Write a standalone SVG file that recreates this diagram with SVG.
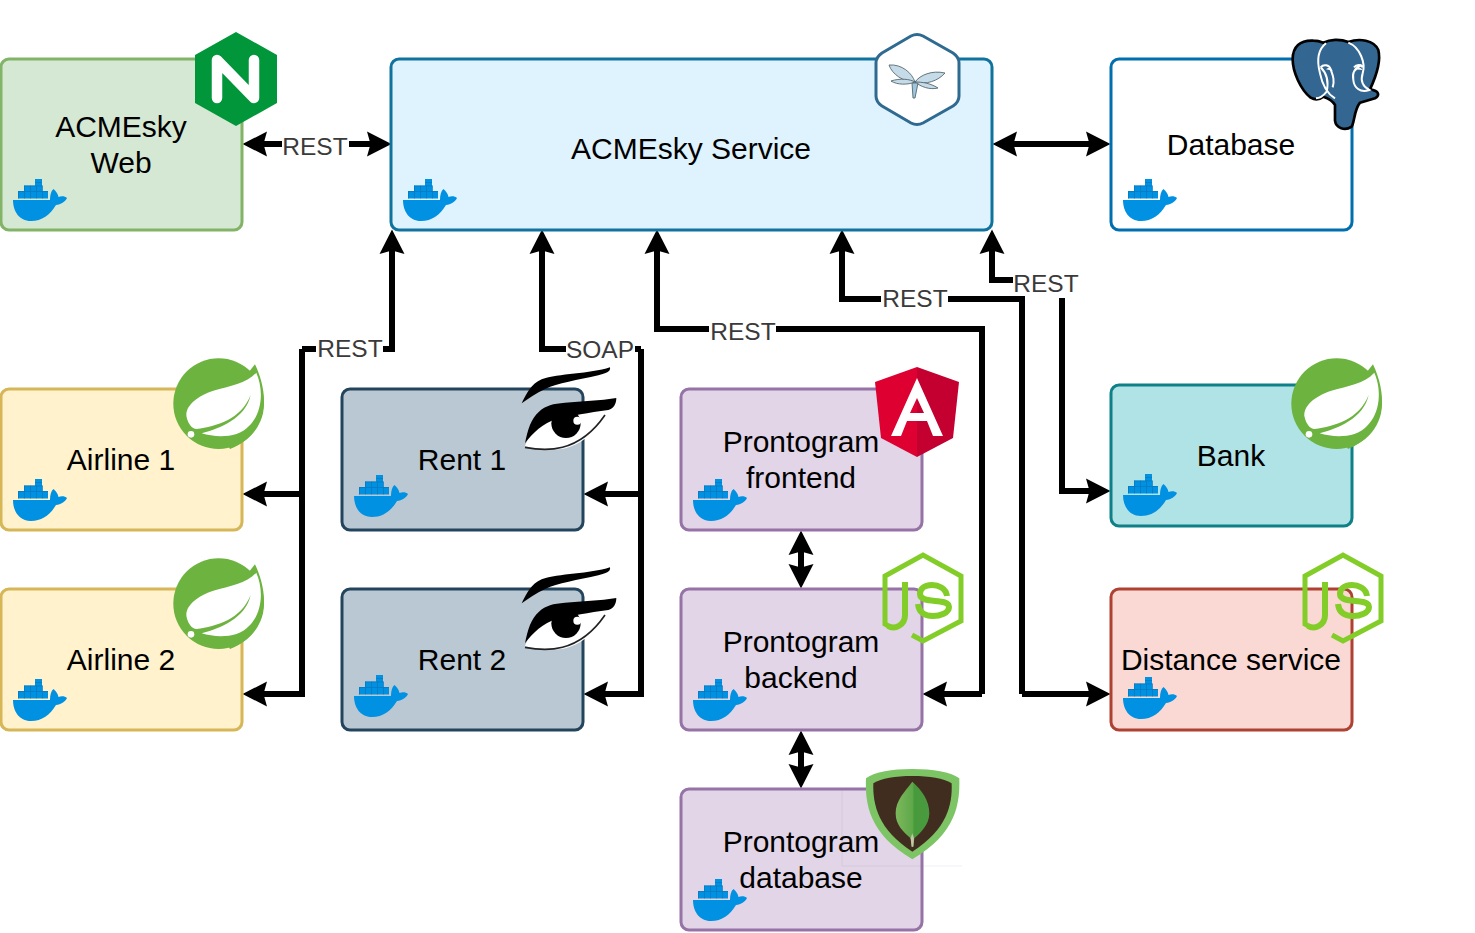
<svg xmlns="http://www.w3.org/2000/svg" width="1475" height="933" viewBox="0 0 1475 933">
<style>
.box{stroke-width:3}
.t{font-family:"Liberation Sans",Arial,sans-serif;font-size:30px;fill:#000;text-anchor:middle}
.l{font-family:"Liberation Sans",Arial,sans-serif;font-size:24.5px;fill:#3a3a3a;text-anchor:middle}
.e{fill:none;stroke:#000;stroke-width:6;stroke-linejoin:miter}
.a{marker-end:url(#arr)}
.b{marker-start:url(#arr);marker-end:url(#arr)}
.bg{fill:#fff}
.green{fill:#d5e8d4;stroke:#82b366}
.blue{fill:#dff3ff;stroke:#10739e}
.white{fill:#fff;stroke:#006eaf}
.yellow{fill:#fff2cc;stroke:#d6b656}
.slate{fill:#bac8d3;stroke:#23445d}
.purple{fill:#e1d5e7;stroke:#9673a6}
.teal{fill:#b0e3e6;stroke:#0e8088}
.red{fill:#fad9d5;stroke:#ae4132}
</style>
<defs>
<marker id="arr" markerUnits="userSpaceOnUse" markerWidth="26" markerHeight="26" refX="6" refY="13" orient="auto-start-reverse" viewBox="0 0 26 26"><path d="M24.5,13 L0,.5 L3.5,13 L0,25.5 Z" fill="#000"/></marker>
<linearGradient id="leaf" x1="0" x2="1" y1="0" y2="0"><stop offset="0" stop-color="#7cb85c"/><stop offset=".5" stop-color="#5fa84a"/><stop offset=".55" stop-color="#479a3c"/><stop offset="1" stop-color="#4a9a3f"/></linearGradient>
<g id="docker">
<path d="M0,21 H37 C37,16 38,12 40.5,10 C43,12 45,15 45.5,18 C48,17 52,17 54,19 C52,23 48,25.5 43,26 C37,36 29,42 18,42 C6,42 0,32 0,21 Z" fill="#0091e2"/>
<path d="M5,12 H11 V6.5 H22 V0 H29 V6.5 H29.5 V12 H35 V19.5 H5 Z" fill="#0091e2"/>
<g fill="#0b6fb0" opacity=".6"><rect x="5" y="12" width="30" height=".9"/><rect x="11" y="6.5" width="18" height=".9"/><rect x="22" y="3" width="7" height=".9"/><rect x="11" y="6.5" width=".9" height="13"/><rect x="17" y="6.5" width=".9" height="13"/><rect x="23" y="6.5" width=".9" height="13"/><rect x="29" y="6.5" width=".9" height="13"/><rect x="5" y="12" width=".9" height="7.5"/></g>
</g>
<g id="spring" transform="translate(0,350) scale(.3333)">
<circle cx="656" cy="161" r="136" fill="#6db33f"/>
<path d="M765,43 C785,85 797,135 790,175 C780,235 745,275 690,297 L640,200 Z" fill="#6db33f"/>
<path d="M769,68 C740,100 690,108 640,122 C590,138 553,170 560,202 C565,222 575,237 590,237 C650,228 722,210 752,135 C737,205 660,235 605,250 C650,264 715,264 747,228 C787,190 792,120 769,68 Z" fill="#fff"/>
<circle cx="573" cy="253" r="10" fill="#fff"/>
</g>
<g id="node">
<path d="M892,628 L885,624 V576 L923,555 L961,576 V621 L923,641 L912,635" fill="none" stroke="#83cd29" stroke-width="5" stroke-linejoin="miter"/>
<path d="M905,582 V615 C905,625 895,630 888,626" fill="none" stroke="#83cd29" stroke-width="6"/>
<path d="M947,596 C946,588 938,585 932,585 C923,585 920,590 920,594 C920,605 949,597 949,607 C949,613 940,616 933,616 C925,616 919,613 918,604" fill="none" stroke="#83cd29" stroke-width="6"/>
</g>
<g id="eye" transform="translate(515,360) scale(.3333)">
<path d="M20,130 C35,100 48,72 80,58 C130,40 225,42 285,22 C288,36 272,40 250,46 C190,60 125,70 92,86 C62,100 40,115 20,130 Z" fill="#000"/>
<path d="M30,258 C45,225 55,185 75,160 C95,140 115,135 150,132 C200,128 255,125 302,117 C302,130 295,143 280,147 C265,150 270,165 255,185 C230,225 190,262 130,268 C95,272 60,270 30,258 Z" fill="#fff"/>
<path d="M30,250 C38,210 48,175 72,155 C92,136 115,131 150,128 C200,124 255,122 304,114 C304,130 297,146 280,150 C220,158 170,168 125,176 C85,190 52,218 30,250 Z" fill="#000"/>
<circle cx="153" cy="190" r="44" fill="#000"/>
<circle cx="187" cy="182" r="12" fill="#fff"/>
<path d="M30,262 C90,274 190,282 270,165" fill="none" stroke="#222" stroke-width="5"/>
</g>
</defs>

<g id="connectors">
<path class="e b" d="M261,144 H373"/>
<rect class="bg" x="282" y="132" width="67" height="28"/><text class="l" x="315" y="155">REST</text>
<path class="e b" d="M1011,144 H1092"/>
<path class="e a" d="M1062,298 V491 H1092"/>
<path class="e a" d="M1062,298 V280 H992 V248"/>
<rect class="bg" x="1013" y="270" width="66" height="28"/><text class="l" x="1046" y="292">REST</text>
<path class="e a" d="M1022,694 V299 H842 V248"/>
<path class="e a" d="M1022,694 H1092"/>
<rect class="bg" x="881" y="285" width="67" height="28"/><text class="l" x="915" y="307">REST</text>
<path class="e a" d="M982,694 V329 H657 V248"/>
<path class="e a" d="M982,694 H941"/>
<rect class="bg" x="709" y="318" width="67" height="28"/><text class="l" x="743" y="340">REST</text>
<path class="e a" d="M302,349 H392 V248"/>
<path class="e a" d="M302,349 V694 H261"/>
<path class="e a" d="M302,494 H261"/>
<rect class="bg" x="316" y="335" width="67" height="28"/><text class="l" x="350" y="357">REST</text>
<path class="e a" d="M641,349 H542 V248"/>
<path class="e a" d="M641,349 V694 H602"/>
<path class="e a" d="M641,494 H602"/>
<rect class="bg" x="566" y="336" width="69" height="28"/><text class="l" x="600" y="358">SOAP</text>
<path class="e b" d="M801,549 V570"/>
<path class="e b" d="M801,749 V770"/>
</g>

<g id="web">
<rect class="box green" x="1" y="59" width="241" height="171" rx="8"/>
<text class="t" x="121" y="137">ACMEsky</text><text class="t" x="121" y="173">Web</text>
<use href="#docker" x="13" y="179"/>
<path d="M236,32 L277,55 V103 L236,126 L195,103 V55 Z" fill="#009639"/>
<path d="M217,98 V60 L254,98 V60" fill="none" stroke="#fff" stroke-width="10.5" stroke-linecap="round" stroke-linejoin="round"/>
</g>
<g id="service">
<rect class="box blue" x="391" y="59" width="601" height="171" rx="8"/>
<text class="t" x="691" y="159">ACMEsky Service</text>
<use href="#docker" x="403" y="179"/>
<path d="M911,36 Q917,33 923,36 L953,53 Q959,57 959,63 V96 Q959,102 953,106 L923,123 Q917,126 911,123 L882,106 Q876,102 876,96 V63 Q876,57 882,53 Z" fill="#fff" stroke="#2f6a90" stroke-width="3"/>
<g fill="#c6dbe8" stroke="#55686f" stroke-width=".9">
<path d="M889,65 C902,64 912,73 915,82 C903,82 892,74 889,65 Z"/>
<path d="M945,73 C932,70 920,75 915,82 C926,85 938,81 945,73 Z"/>
<path d="M891,81 C900,78 910,79 915,82 C908,85 897,85 891,81 Z"/>
<path d="M938,88 C930,83 922,82 915,82 C921,87 930,90 938,88 Z"/>
<path d="M912,83 H918 L915,98 H913 Z" fill="#9fc6de"/>
</g>
</g>
<g id="database">
<rect class="box white" x="1111" y="59" width="241" height="171" rx="8"/>
<text class="t" x="1231" y="155">Database</text>
<use href="#docker" x="1123" y="179"/>
<g transform="translate(1280,30) scale(.3333)">
<path d="M100,32 C60,30 38,50 38,88 C38,125 62,180 92,203 C108,212 120,208 130,200 C145,205 158,212 165,225 L165,272 C168,295 195,304 215,290 C224,275 222,240 240,218 L285,205 C300,196 298,182 270,178 C290,135 304,95 295,60 C282,30 238,24 205,36 C180,26 150,28 130,38 C120,34 110,32 100,32 Z" fill="#336791" stroke="#000" stroke-width="8" stroke-linejoin="round"/>
<path d="M138,40 C115,58 110,92 120,130 C126,160 140,190 165,205 M122,112 C135,125 148,150 140,185 C132,195 120,205 108,205 M205,38 C240,52 258,100 248,130 C240,155 250,170 268,180 C240,190 222,172 220,150 C216,130 222,115 245,105 M122,112 C130,102 148,104 152,118 C158,135 165,150 158,172 M222,112 C230,102 245,104 248,112" fill="none" stroke="#fff" stroke-width="6"/>
<path d="M138,118 C146,110 155,114 158,122 Z M226,118 C233,110 244,112 247,120 Z" fill="#fff"/>
</g>
</g>
<g id="airline1">
<rect class="box yellow" x="1" y="389" width="241" height="141" rx="8"/>
<text class="t" x="121" y="470">Airline 1</text>
<use href="#docker" x="13" y="479"/>
<use href="#spring"/>
</g>
<g id="airline2">
<rect class="box yellow" x="1" y="589" width="241" height="141" rx="8"/>
<text class="t" x="121" y="670">Airline 2</text>
<use href="#docker" x="13" y="679"/>
<use href="#spring" y="200"/>
</g>
<g id="rent1">
<rect class="box slate" x="342" y="389" width="241" height="141" rx="8"/>
<text class="t" x="462" y="470">Rent 1</text>
<use href="#docker" x="354" y="475"/>
<use href="#eye"/>
</g>
<g id="rent2">
<rect class="box slate" x="342" y="589" width="241" height="141" rx="8"/>
<text class="t" x="462" y="670">Rent 2</text>
<use href="#docker" x="354" y="675"/>
<use href="#eye" y="200"/>
</g>
<g id="frontend">
<rect class="box purple" x="681" y="389" width="241" height="141" rx="8"/>
<text class="t" x="801" y="452">Prontogram</text><text class="t" x="801" y="488">frontend</text>
<use href="#docker" x="693" y="479"/>
<path d="M917,367 L875,382 L881,438 L917,457 Z" fill="#dd0031"/>
<path d="M917,367 L959,382 L953,438 L917,457 Z" fill="#c3002f"/>
<path fill-rule="evenodd" d="M917,378 L891,436 H901 L907,421 H927 L933,436 H943 Z M917,398 L924,413 H910 Z" fill="#fff"/>
</g>
<g id="backend">
<rect class="box purple" x="681" y="589" width="241" height="141" rx="8"/>
<text class="t" x="801" y="652">Prontogram</text><text class="t" x="801" y="688">backend</text>
<use href="#docker" x="693" y="679"/>
<use href="#node"/>
</g>
<g id="mongo">
<rect class="box purple" x="681" y="789" width="241" height="141" rx="8"/>
<text class="t" x="801" y="852">Prontogram</text><text class="t" x="801" y="888">database</text>
<use href="#docker" x="693" y="879"/>
<path d="M842,790 V866 H962" fill="none" stroke="#8a7a95" stroke-opacity=".12" stroke-width="1"/>
<g transform="translate(680,750) scale(.3333)">
<path d="M697,57 C760,57 810,65 838,85 C840,160 830,250 697,328 C565,250 555,160 558,85 C585,65 635,57 697,57 Z" fill="#7dc465"/>
<path d="M697,78 C750,78 790,85 815,100 C818,165 800,240 697,305 C595,240 578,165 580,100 C605,85 645,78 697,78 Z" fill="#402d20"/>
<path d="M697,95 C725,120 748,150 748,190 C748,225 720,250 703,265 L700,290 L695,290 L692,265 C670,245 647,225 647,190 C647,150 675,125 697,95 Z" fill="url(#leaf)"/>
<path d="M697,250 L702,265 L700,290 L695,290 L692,265 Z" fill="#c8c4a8"/>
</g>
</g>
<g id="bank">
<rect class="box teal" x="1111" y="385" width="241" height="141" rx="8"/>
<text class="t" x="1231" y="466">Bank</text>
<use href="#docker" x="1123" y="474"/>
<use href="#spring" x="1118"/>
</g>
<g id="distance">
<rect class="box red" x="1111" y="589" width="241" height="141" rx="8"/>
<text class="t" x="1231" y="670">Distance service</text>
<use href="#docker" x="1123" y="677"/>
<use href="#node" x="420"/>
</g>
</svg>
